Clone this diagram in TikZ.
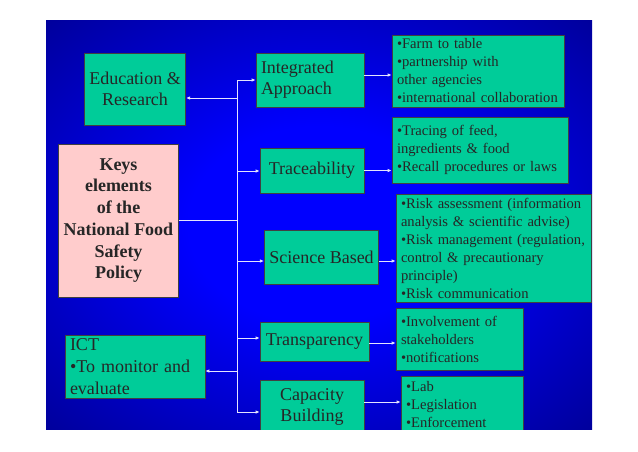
\documentclass[tikz,border=0pt]{standalone}
\usepackage{fontspec}
\setmainfont{Liberation Serif}
\usetikzlibrary{arrows.meta}
\definecolor{boxgreen}{HTML}{00CC99}
\definecolor{keypink}{HTML}{FFCCCC}
\definecolor{slidenavy}{HTML}{000080}
\definecolor{linkwhite}{HTML}{E4E4FF}
\newcommand{\nohyph}{\hyphenpenalty10000 \exhyphenpenalty10000 }
\pgfdeclareradialshading{slidebg}{\pgfpoint{0bp}{0bp}}{color(0bp)=(blue); color(12bp)=(blue); color(42bp)=(slidenavy); color(50bp)=(slidenavy)}
\tikzset{
  box/.style={draw=black!75, line width=0.6pt, fill=boxgreen, text=black!85, inner sep=0pt, inner xsep=5pt},
  big/.style={font=\fontsize{18}{21}\selectfont},
  small/.style={font=\fontsize{14.6}{18}\selectfont\nohyph},
  link/.style={draw=linkwhite, line width=0.8pt},
  arr/.style={link, -{Latex[length=4pt,width=3.5pt]}}
}
\begin{document}
\begin{tikzpicture}[x=1pt,y=-1pt]
\useasboundingbox (0,0) rectangle (638,451);
% Slide
\shade[shading=slidebg] (46,20) rectangle (592,429);
\begin{scope}
\clip (46,20) rectangle (592,429);

% Main policy box
\node[box, fill=keypink, font=\bfseries\fontsize{18}{21.7}\selectfont, align=center,
  minimum width=117, minimum height=153] (keys) at (118.5,220.5)
  {Keys\\elements\\of the\\National Food\\Safety\\Policy};

% Left side
\node[box, big, align=center, minimum width=94, minimum height=72] (edu) at (135,89)
  {Education \&\\Research};
\node[box, font=\fontsize{18}{22}\selectfont, align=left, text width=130, minimum height=63] (ict) at (135,366.5)
  {ICT\\\textbullet To monitor and\\evaluate};

% Middle column
\node[box, big, align=left, text width=98, minimum height=54] (integ) at (310,80)
  {Integrated\\Approach};
\node[box, big, align=center, minimum width=104, minimum height=45] (trace) at (312,170.5)
  {Traceability};
\node[box, big, align=center, minimum width=113, minimum height=54] (sci) at (321.5,257)
  {Science Based};
\node[box, big, align=center, minimum width=109, minimum height=39] (trans) at (314.5,341.5)
  {Transparency};
\node[box, big, align=center, minimum width=104, minimum height=54] (cap) at (312,407)
  {Capacity\\Building};

% Right column
\node[box, small, align=left, text width=162, minimum height=72] (farm) at (478,71)
  {\textbullet Farm to table\\\textbullet partnership with\\other agencies\\\textbullet international collaboration};
\node[box, small, align=left, text width=166, minimum height=66] (tracing) at (480,150)
  {\textbullet Tracing of feed,\\ingredients \& food\\\textbullet Recall procedures or laws};
\node[box, small, align=left, text width=185, minimum height=108] (risk) at (493.5,248)
  {\textbullet Risk assessment (information\\analysis \& scientific advise)\\\textbullet Risk management (regulation,\\control \& precautionary\\principle)\\\textbullet Risk communication};
\node[box, small, align=left, text width=117, minimum height=62] (inv) at (459.5,339)
  {\textbullet Involvement of\\stakeholders\\\textbullet notifications};
\node[box, small, align=left, text width=112, minimum height=56] (lab) at (462,404)
  {\textbullet Lab\\\textbullet Legislation\\\textbullet Enforcement};

% Trunk
\coordinate (t0) at (237,220.5);
\coordinate (t1) at (237,80);
\coordinate (t2) at (237,98);
\coordinate (t3) at (237,171);
\coordinate (t4) at (237,261);
\coordinate (t5) at (237,338);
\coordinate (t6) at (237,371);
\coordinate (t7) at (237,412);
\draw[link] (t1) -- (t7);
\draw[link] (keys.east) -- (t0);

% Branches
\draw[arr] (t1) -- (integ.west |- t1);
\draw[arr] (t2) -- (edu.east |- t2);
\draw[arr] (t3) -- (trace.west |- t3);
\draw[arr] (t4) -- (sci.west |- t4);
\draw[arr] (t5) -- (trans.west |- t5);
\draw[arr] (t6) -- (ict.east |- t6);
\draw[arr] (t7) -- (cap.west |- t7);

% Details
\draw[arr] ([yshift=5pt]integ.east) -- ([yshift=5pt]integ.east -| farm.west);
\draw[arr] (trace.east) -- (trace.east -| tracing.west);
\draw[arr] ([yshift=-4pt]sci.east) -- ([yshift=-4pt]sci.east -| risk.west);
\draw[arr] ([yshift=-1.5pt]trans.east) -- ([yshift=-1.5pt]trans.east -| inv.west);
\draw[arr] ([yshift=5pt]cap.east) -- ([yshift=5pt]cap.east -| lab.west);
\end{scope}
\end{tikzpicture}
\end{document}
